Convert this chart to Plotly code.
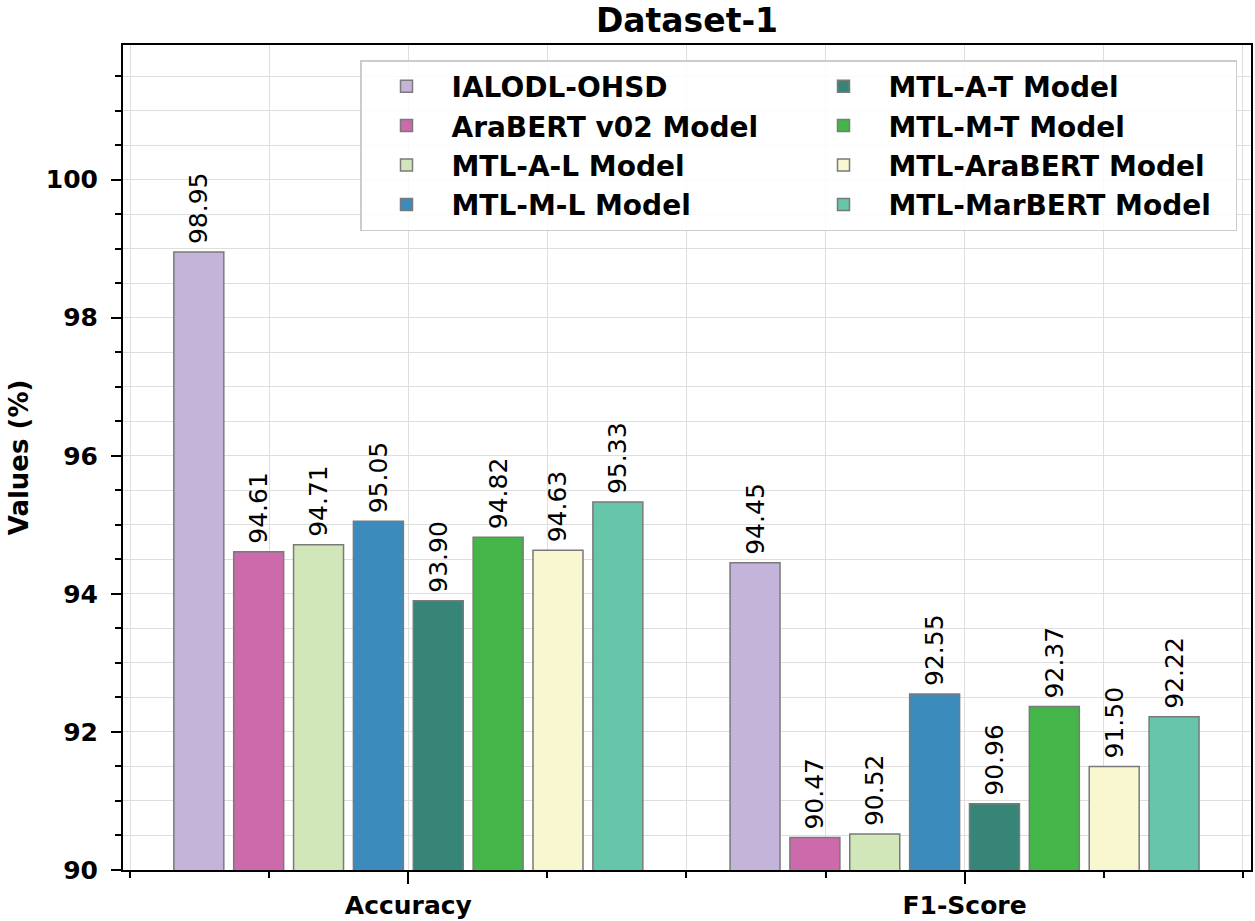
import plotly.graph_objects as go

metrics = ["Accuracy", "F1-Score"]
models = ["IALODL-OHSD", "AraBERT v02 Model", "MTL-A-L Model", "MTL-M-L Model",
          "MTL-A-T Model", "MTL-M-T Model", "MTL-AraBERT Model", "MTL-MarBERT Model"]
accuracy = [98.95, 94.61, 94.71, 95.05, 93.90, 94.82, 94.63, 95.33]
f1_score = [94.45, 90.47, 90.52, 92.55, 90.96, 92.37, 91.50, 92.22]
colors = ["#c5b4da", "#cd6aab", "#d1e7b9", "#3b8bbd",
          "#368577", "#44b549", "#f8f7d0", "#67c5aa"]
# legend is filled column-wise (4 rows x 2 columns)
legend_ranks = [1, 3, 5, 7, 2, 4, 6, 8]
y_ticks = [90, 92, 94, 96, 98, 100]

FONT = "DejaVu Sans"
x_pos = list(range(len(metrics)))

fig = go.Figure()
for i, name in enumerate(models):
    fig.add_trace(go.Bar(
        x=x_pos,
        y=[accuracy[i], f1_score[i]],
        name=name,
        marker=dict(color=colors[i], line=dict(color="#7a7a7a", width=1.5)),
        texttemplate="\u2009%{y:.2f}",
        textposition="outside",
        textangle=-90,
        constraintext="none",
        cliponaxis=False,
        textfont=dict(family=FONT, size=25, color="black"),
        legendrank=legend_ranks[i],
    ))

grid_color = "#dedede"
fig.update_layout(
    width=1255, height=921,
    margin=dict(l=123, r=4, t=45, b=51, autoexpand=False),
    plot_bgcolor="white", paper_bgcolor="white",
    barmode="group", bargap=0.139, bargroupgap=0.165,
    title=dict(text="Dataset-1", x=(123 + 1251) / 2 / 1255, xanchor="center",
               y=1 - 20 / 921, yanchor="middle",
               font=dict(family=FONT, size=33, color="black", weight="bold")),
    legend=dict(
        orientation="h", x=(360 - 123) / 1128, y=(870 - 60) / 825,
        xanchor="left", yanchor="top", entrywidth=342, itemwidth=80,
        font=dict(family=FONT, size=28, color="black", weight="bold"),
        bgcolor="rgba(255,255,255,0.85)", bordercolor="#cccccc", borderwidth=1.5,
    ),
    xaxis=dict(
        range=[-0.513, 1.515], tickvals=x_pos, ticktext=metrics,
        ticks="outside", ticklen=12, tickwidth=1.5, tickcolor="black",
        showline=True, mirror=True, linecolor="black", linewidth=2,
        showgrid=True, gridcolor=grid_color, gridwidth=1.2, zeroline=False,
        tickfont=dict(family=FONT, size=25, color="black", weight="bold"),
        minor=dict(tick0=-0.5, dtick=0.25, ticks="outside", ticklen=6,
                   tickwidth=1.5, tickcolor="black", showgrid=True,
                   gridcolor=grid_color, gridwidth=1.2),
    ),
    yaxis=dict(
        range=[90, 101.95], tickvals=y_ticks,
        ticks="outside", ticklen=10, tickwidth=1.5, tickcolor="black",
        ticklabelstandoff=8,
        showline=True, mirror=True, linecolor="black", linewidth=2,
        showgrid=True, gridcolor=grid_color, gridwidth=1.2, zeroline=False,
        tickfont=dict(family=FONT, size=25, color="black", weight="bold"),
        title=dict(text="Values (%)", standoff=10,
                   font=dict(family=FONT, size=26, color="black", weight="bold")),
        minor=dict(dtick=0.5, ticks="outside", ticklen=6, tickwidth=1.5,
                   tickcolor="black", showgrid=True, gridcolor=grid_color,
                   gridwidth=1.2),
    ),
)

fig.write_html("out.html", config={"displayModeBar": False},
               post_script="document.body.style.margin='0px';")
